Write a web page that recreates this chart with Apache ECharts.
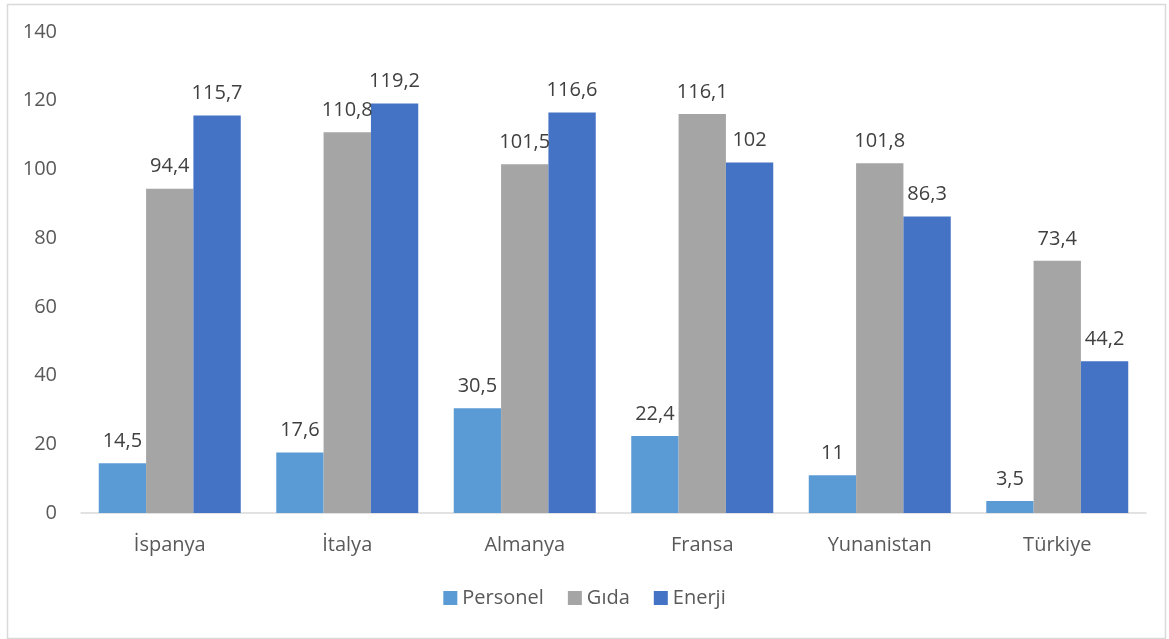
<!DOCTYPE html>
<html>
<head>
<meta charset="utf-8">
<script src="https://cdn.jsdelivr.net/npm/echarts@6/dist/echarts.min.js"></script>
<style>
html,body{margin:0;padding:0;background:#fff;}
#c{width:1169px;height:639px;}
</style>
</head>
<body>
<div id="c"></div>
<script>
const categories = ['İspanya', 'İtalya', 'Almanya', 'Fransa', 'Yunanistan', 'Türkiye'];
const personel = [14.5, 17.6, 30.5, 22.4, 11, 3.5];
const gida = [94.4, 110.8, 101.5, 116.1, 101.8, 73.4];
const enerji = [115.7, 119.2, 116.6, 102, 86.3, 44.2];
const seriesNames = ['Personel', 'Gıda', 'Enerji'];
const colors = ['#5B9BD5', '#A5A5A5', '#4472C4'];
const FONT = '"Open Sans", "Noto Sans", sans-serif';

const chart = echarts.init(document.getElementById('c'), null, {renderer: 'canvas'});
function mk(name, data, color) {
  return {
    name: name, type: 'bar', data: data, barGap: '0%', barCategoryGap: '20%',
    itemStyle: {color: color},
    label: {
      show: true, position: 'top', distance: 12,
      color: '#404040', fontSize: 20, fontFamily: FONT,
      formatter: p => String(p.value).replace('.', ',')
    }
  };
}
chart.setOption({
  animation: false,
  color: colors,
  grid: {left: 81, right: 23, top: 32, bottom: 126, containLabel: false},
  legend: {
    bottom: 26, left: 'center', itemWidth: 14, itemHeight: 14, itemGap: 24,
    icon: 'rect',
    textStyle: {color: '#595959', fontSize: 20, fontFamily: FONT, padding: [0, 0, 0, 0]},
    data: seriesNames
  },
  xAxis: {
    type: 'category', data: categories,
    axisLine: {lineStyle: {color: '#D9D9D9', width: 1.5}},
    axisTick: {show: false},
    axisLabel: {color: '#595959', fontSize: 20, fontFamily: FONT, margin: 22}
  },
  yAxis: {
    type: 'value', min: 0, max: 140, interval: 20,
    splitLine: {show: false},
    axisLine: {show: false}, axisTick: {show: false},
    axisLabel: {color: '#595959', fontSize: 20, fontFamily: FONT, margin: 24}
  },
  graphic: [{
    type: 'rect', left: 5, top: 2, z: -1,
    shape: {width: 1158, height: 634},
    style: {fill: 'none', stroke: '#D9D9D9', lineWidth: 1.5}
  }],
  series: [
    mk(seriesNames[0], personel, colors[0]),
    mk(seriesNames[1], gida, colors[1]),
    mk(seriesNames[2], enerji, colors[2])
  ]
});
</script>
</body>
</html>
